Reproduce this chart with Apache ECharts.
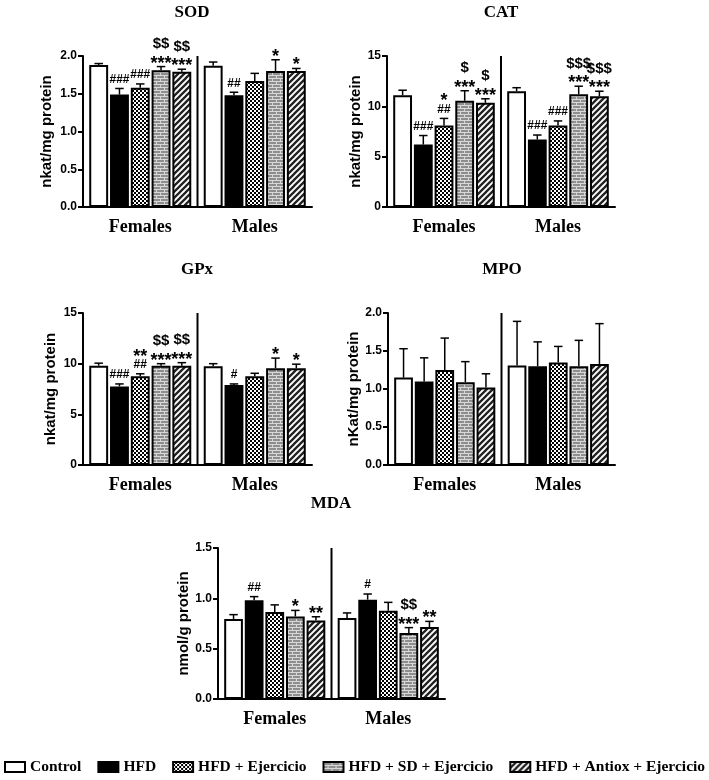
<!DOCTYPE html>
<html>
<head>
<meta charset="utf-8">
<script src="https://cdn.jsdelivr.net/npm/echarts@6/dist/echarts.min.js"></script>
<style>
html, body { margin: 0; padding: 0; background: #fff; }
#main { width: 709px; height: 780px; }
</style>
</head>
<body>
<div id="main"></div>
<script>
// groups and treatments
const groups = ['Females', 'Males'];
const treatments = ['Control', 'HFD', 'HFD + Ejercicio', 'HFD + SD + Ejercicio', 'HFD + Antiox + Ejercicio'];

// SOD  [females, males] x treatment
const sodMean = [[1.88, 1.49, 1.58, 1.81, 1.79], [1.87, 1.48, 1.67, 1.80, 1.80]];
const sodErr = [[0.02, 0.08, 0.05, 0.05, 0.035], [0.05, 0.04, 0.10, 0.15, 0.035]];
const sodMarks = [[[], ['###'], ['###'], ['***', '$$'], ['***', '$$']], [[], ['##'], [], ['*'], ['*']]];

// CAT
const catMean = [[11.1, 6.2, 8.1, 10.55, 10.35], [11.5, 6.7, 8.1, 11.2, 11.0]];
const catErr = [[0.5, 0.9, 0.7, 1.0, 0.4], [0.35, 0.45, 0.45, 0.8, 0.5]];
const catMarks = [[[], ['###'], ['##', '*'], ['***', '$'], ['***', '$']], [[], ['###'], ['###'], ['***', '$$$'], ['***', '$$$']]];

// GPx
const gpxMean = [[9.8, 7.75, 8.75, 9.8, 9.8], [9.75, 7.9, 8.75, 9.55, 9.55]];
const gpxErr = [[0.25, 0.25, 0.25, 0.2, 0.3], [0.25, 0.1, 0.3, 1.0, 0.4]];
const gpxMarks = [[[], ['###'], ['##', '**'], ['***', '$$'], ['***', '$$']], [[], ['#'], [], ['*'], ['*']]];

// MPO
const mpoMean = [[1.15, 1.10, 1.25, 1.09, 1.02], [1.31, 1.30, 1.35, 1.30, 1.33]];
const mpoErr = [[0.38, 0.31, 0.42, 0.27, 0.18], [0.58, 0.32, 0.21, 0.34, 0.53]];
const mpoMarks = [[[], [], [], [], []], [[], [], [], [], []]];

// MDA
const mdaMean = [[0.795, 0.98, 0.865, 0.82, 0.78], [0.805, 0.987, 0.877, 0.656, 0.715]];
const mdaErr = [[0.043, 0.037, 0.07, 0.06, 0.037], [0.05, 0.056, 0.083, 0.053, 0.056]];
const mdaMarks = [[[], ['##'], [], ['*'], ['**']], [[], ['#'], [], ['***', '$$'], ['**']]];

const BAR_PCT = 0.165;
const BAR_GAP = 0.1;

function makePattern(w, h, draw) {
    const c = document.createElement('canvas');
    c.width = w; c.height = h;
    draw(c.getContext('2d'));
    return { image: c, repeat: 'repeat' };
}
const checker = makePattern(4, 4, function (ctx) {
    ctx.fillStyle = '#000'; ctx.fillRect(0, 0, 4, 4);
    ctx.fillStyle = '#fff'; ctx.fillRect(0, 0, 2, 2); ctx.fillRect(2, 2, 2, 2);
});
const brick = makePattern(8, 6, function (ctx) {
    ctx.fillStyle = '#8e8e8e'; ctx.fillRect(0, 0, 8, 6);
    ctx.fillStyle = '#d8d8d8';
    ctx.fillRect(0, 0, 8, 1); ctx.fillRect(0, 3, 8, 1);
    ctx.fillRect(0, 0, 1, 3); ctx.fillRect(4, 3, 1, 3);
});
const stripes = makePattern(6, 6, function (ctx) {
    ctx.fillStyle = '#fff'; ctx.fillRect(0, 0, 6, 6);
    ctx.strokeStyle = '#222'; ctx.lineWidth = 2.3;
    ctx.beginPath();
    ctx.moveTo(-1, 7); ctx.lineTo(7, -1);
    ctx.moveTo(-1, 1); ctx.lineTo(1, -1);
    ctx.moveTo(5, 7); ctx.lineTo(7, 5);
    ctx.stroke();
});
const fills = ['#fff', '#000', checker, brick, stripes];

const panels = [
    { title: 'SOD', ylabel: 'nkat/mg protein', max: 2, interval: 0.5, dec: 1, mean: sodMean, err: sodErr, marks: sodMarks,
      grid: { left: 83, top: 56, width: 229, height: 151 }, tx: 192, ty: 4, nameGap: 29 },
    { title: 'CAT', ylabel: 'nkat/mg protein', max: 15, interval: 5, dec: 0, mean: catMean, err: catErr, marks: catMarks,
      grid: { left: 387, top: 56, width: 228, height: 151 }, tx: 501, ty: 4, nameGap: 22 },
    { title: 'GPx', ylabel: 'nkat/mg protein', max: 15, interval: 5, dec: 0, mean: gpxMean, err: gpxErr, marks: gpxMarks,
      grid: { left: 83, top: 313, width: 229, height: 152 }, tx: 197, ty: 261, nameGap: 25 },
    { title: 'MPO', ylabel: 'nKat/mg protein', max: 2, interval: 0.5, dec: 1, mean: mpoMean, err: mpoErr, marks: mpoMarks,
      grid: { left: 388, top: 313, width: 227, height: 152 }, tx: 502, ty: 261, nameGap: 24 },
    { title: 'MDA', ylabel: 'nmol/g protein', max: 1.5, interval: 0.5, dec: 1, mean: mdaMean, err: mdaErr, marks: mdaMarks,
      grid: { left: 218, top: 548, width: 227, height: 151 }, tx: 331, ty: 495, nameGap: 23 }
];

// font size + offsets for the significance marks
function markStyle(s) {
    if (s.indexOf('*') >= 0) return { fs: 18, dy: 11, h: 6 };
    if (s.indexOf('$') >= 0) return { fs: 15, dy: 2, h: 12 };
    return { fs: 12, dy: 2, h: 8 };
}

const titles = [], grids = [], xAxes = [], yAxes = [], series = [];

panels.forEach(function (p, pi) {
    titles.push({
        text: p.title, left: p.tx, top: p.ty, textAlign: 'center', padding: 0,
        textStyle: { fontFamily: 'Liberation Serif', fontWeight: 'bold', fontSize: 17, color: '#000' }
    });
    grids.push(Object.assign({ containLabel: false, outerBoundsMode: 'none' }, p.grid));
    xAxes.push({
        type: 'category', gridIndex: pi, data: groups,
        axisLine: { lineStyle: { color: '#000', width: 2 } },
        axisTick: { show: false },
        axisLabel: { margin: 11, color: '#000', fontFamily: 'Liberation Serif', fontWeight: 'bold', fontSize: 18 }
    });
    yAxes.push({
        type: 'value', gridIndex: pi, min: 0, max: p.max, interval: p.interval,
        name: p.ylabel, nameLocation: 'middle', nameRotate: 90, nameGap: p.nameGap,
        nameTextStyle: { fontFamily: 'Liberation Sans', fontWeight: 'bold', fontSize: 15, color: '#000' },
        axisLine: { show: true, lineStyle: { color: '#000', width: 2 } },
        axisTick: { show: true, length: 5, lineStyle: { color: '#000', width: 2 } },
        splitLine: { show: false },
        axisLabel: {
            margin: 6, color: '#000', fontFamily: 'Liberation Sans', fontWeight: 'bold', fontSize: 12,
            formatter: function (v) { return v.toFixed(p.dec); }
        }
    });

    treatments.forEach(function (name, t) {
        series.push({
            type: 'bar', name: name, xAxisIndex: pi, yAxisIndex: pi,
            data: [p.mean[0][t], p.mean[1][t]],
            barWidth: (BAR_PCT * 100) + '%', barGap: (BAR_GAP * 100) + '%',
            itemStyle: { color: fills[t], borderColor: '#000', borderWidth: 2 },
            silent: true
        });
    });

    // error bars and significance marks
    const errData = [];
    for (let g = 0; g < 2; g++) {
        for (let t = 0; t < 5; t++) errData.push([g, t, p.mean[g][t], p.err[g][t]]);
    }
    series.push({
        type: 'custom', xAxisIndex: pi, yAxisIndex: pi, silent: true, z: 5,
        data: errData,
        renderItem: function (params, api) {
            const g = api.value(0), t = api.value(1), m = api.value(2), e = api.value(3);
            const bw = api.size([1, 0])[0] * BAR_PCT;
            const base = api.coord([g, m]);
            const x = base[0] + (t - 2) * bw * (1 + BAR_GAP);
            const y0 = base[1];
            const y1 = api.coord([g, m + e])[1];
            const cap = bw * 0.45;
            const children = [
                { type: 'line', shape: { x1: x, y1: y0, x2: x, y2: y1 }, style: { stroke: '#000', lineWidth: 1.5 } },
                { type: 'line', shape: { x1: x - cap / 2, y1: y1, x2: x + cap / 2, y2: y1 }, style: { stroke: '#000', lineWidth: 1.5 } }
            ];
            let cursor = y1 - 5;
            p.marks[g][t].forEach(function (s) {
                const ms = markStyle(s);
                children.push({
                    type: 'text',
                    style: {
                        text: s, x: x, y: cursor + ms.dy, align: 'center', verticalAlign: 'bottom',
                        fontFamily: 'Liberation Sans', fontWeight: 'bold', fontSize: ms.fs, fill: '#000'
                    }
                });
                cursor -= ms.h + 6;
            });
            return { type: 'group', children: children };
        }
    });

    // vertical divider between Females and Males
    series.push({
        type: 'custom', xAxisIndex: pi, yAxisIndex: pi, silent: true, z: 4,
        data: [[0]],
        renderItem: function (params, api) {
            const band = api.size([1, 0])[0];
            const a = api.coord([0, 0]);
            const b = api.coord([0, p.max]);
            const x = a[0] + band / 2;
            return { type: 'line', shape: { x1: x, y1: a[1], x2: x, y2: b[1] }, style: { stroke: '#000', lineWidth: 2 } };
        }
    });
});

const chart = echarts.init(document.getElementById('main'), null, { renderer: 'canvas' });
chart.setOption({
    animation: false,
    backgroundColor: '#fff',
    title: titles,
    grid: grids,
    xAxis: xAxes,
    yAxis: yAxes,
    legend: {
        data: treatments, left: 4, top: 759, width: 760, padding: 0, itemGap: 16,
        itemWidth: 20, itemHeight: 10, icon: 'rect', selectedMode: false,
        itemStyle: { borderColor: '#000', borderWidth: 2 },
        textStyle: { fontFamily: 'Liberation Serif', fontWeight: 'bold', fontSize: 15.5, color: '#000' }
    },
    series: series
});
</script>
</body>
</html>
